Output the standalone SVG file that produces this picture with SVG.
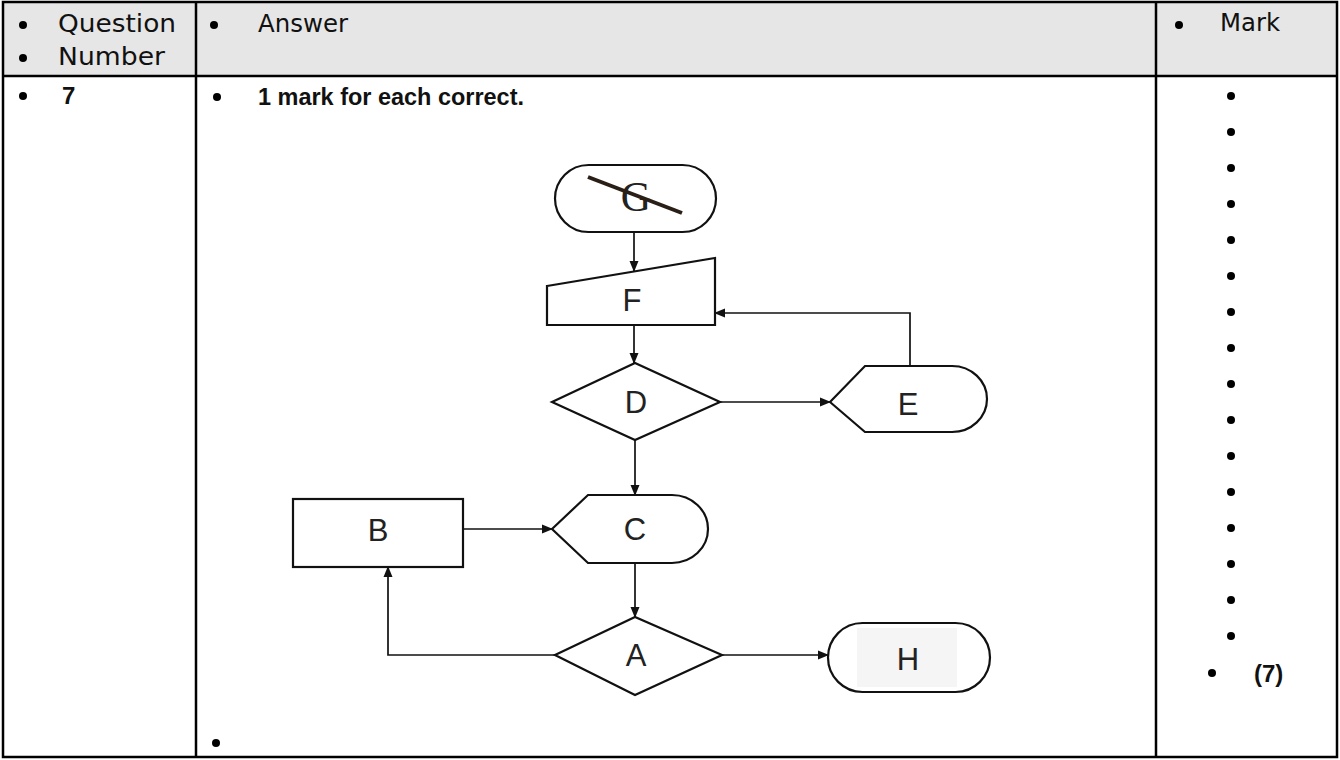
<svg xmlns="http://www.w3.org/2000/svg" width="1340" height="760" viewBox="0 0 1340 760">
<style>
.hd{font-family:"DejaVu Sans","Liberation Sans",sans-serif;font-size:24px;fill:#111}
.bd{font-family:"Liberation Sans",Arial,sans-serif;font-weight:bold;font-size:24px;fill:#111}
.lbl{font-family:"Liberation Sans",Arial,sans-serif;font-size:31px;fill:#222;text-anchor:middle}
.shape{fill:#fff;stroke:#111;stroke-width:2.2}
.conn{fill:none;stroke:#111;stroke-width:1.7}
.grid{stroke:#000;stroke-width:2.5;fill:none}
</style>
<defs>
<marker id="ah" markerWidth="11" markerHeight="11" refX="10" refY="5.5" orient="auto" markerUnits="userSpaceOnUse">
<path d="M0,1 L11,5.5 L0,10 Z" fill="#111"/>
</marker>
<g id="dot"><circle r="4" fill="#000"/></g>
</defs>
<rect width="1340" height="760" fill="#fff"/>
<!-- table -->
<g id="table">
<rect x="3" y="2" width="1334" height="74" fill="#e6e6e6"/>
<rect class="grid" x="3" y="2" width="1334" height="755"/>
<line class="grid" x1="3" y1="76" x2="1337" y2="76"/>
<line class="grid" x1="196" y1="2" x2="196" y2="757"/>
<line class="grid" x1="1156" y1="2" x2="1156" y2="757"/>
</g>
<g id="header">
<use href="#dot" x="23" y="25"/>
<text class="hd" x="58" y="32" textLength="118" lengthAdjust="spacingAndGlyphs">Question</text>
<use href="#dot" x="23" y="58"/>
<text class="hd" x="58" y="65" textLength="107" lengthAdjust="spacingAndGlyphs">Number</text>
<use href="#dot" x="214" y="25"/>
<text class="hd" x="258" y="32" textLength="90" lengthAdjust="spacingAndGlyphs">Answer</text>
<use href="#dot" x="1179" y="25"/>
<text class="hd" x="1220" y="31" textLength="60" lengthAdjust="spacingAndGlyphs">Mark</text>
</g>
<g id="row">
<use href="#dot" x="23" y="96"/>
<text class="bd" x="62" y="104">7</text>
<use href="#dot" x="217" y="97"/>
<text class="bd" x="258" y="105" textLength="266" lengthAdjust="spacingAndGlyphs">1 mark for each correct.</text>
<use href="#dot" x="216" y="743"/>
</g>
<g id="marks">
<use href="#dot" x="1231" y="96"/>
<use href="#dot" x="1231" y="132"/>
<use href="#dot" x="1231" y="168"/>
<use href="#dot" x="1231" y="204"/>
<use href="#dot" x="1231" y="240"/>
<use href="#dot" x="1231" y="276"/>
<use href="#dot" x="1231" y="312"/>
<use href="#dot" x="1231" y="348"/>
<use href="#dot" x="1231" y="384"/>
<use href="#dot" x="1231" y="420"/>
<use href="#dot" x="1231" y="456"/>
<use href="#dot" x="1231" y="492"/>
<use href="#dot" x="1231" y="528"/>
<use href="#dot" x="1231" y="564"/>
<use href="#dot" x="1231" y="600"/>
<use href="#dot" x="1231" y="636"/>
<use href="#dot" x="1212" y="673"/>
<text class="bd" x="1254" y="682">(7)</text>
</g>
<!-- connectors -->
<g id="connectors">
<path class="conn" d="M634,232 L634,271" marker-end="url(#ah)"/>
<path class="conn" d="M634,325 L634,363" marker-end="url(#ah)"/>
<path class="conn" d="M720,402 L830,402" marker-end="url(#ah)"/>
<path class="conn" d="M910,366 L910,313 L715,313" marker-end="url(#ah)"/>
<path class="conn" d="M635,440 L635,495" marker-end="url(#ah)"/>
<path class="conn" d="M463,529 L552,529" marker-end="url(#ah)"/>
<path class="conn" d="M635,563 L635,617" marker-end="url(#ah)"/>
<path class="conn" d="M555,655 L388,655 L388,567" marker-end="url(#ah)"/>
<path class="conn" d="M722,655 L828,655" marker-end="url(#ah)"/>
</g>
<!-- nodes -->
<g id="G">
<rect class="shape" x="555" y="165" width="161" height="67" rx="33.5"/>
<text x="636" y="211" font-family="'Liberation Serif',serif" font-size="42" fill="#222" text-anchor="middle">G</text>
<line x1="588" y1="177" x2="682" y2="213" stroke="#2a1f17" stroke-width="4"/>
</g>
<g id="F">
<polygon class="shape" points="547,286 715,258 715,325 547,325"/>
<text class="lbl" x="632" y="311">F</text>
</g>
<g id="D">
<polygon class="shape" points="552,402 635,363 720,402 635,440"/>
<text class="lbl" x="636" y="413">D</text>
</g>
<g id="E">
<path class="shape" d="M830,402 L865,366 L952,366 A35,33 0 0 1 952,432 L865,432 Z"/>
<text class="lbl" x="908" y="415">E</text>
</g>
<g id="B">
<rect class="shape" x="293" y="499" width="170" height="68"/>
<text class="lbl" x="378" y="541">B</text>
</g>
<g id="C">
<path class="shape" d="M552,529 L588,495 L672,495 A36,34 0 0 1 672,563 L588,563 Z"/>
<text class="lbl" x="635" y="540">C</text>
</g>
<g id="A">
<polygon class="shape" points="555,655 635,617 722,655 635,695"/>
<text class="lbl" x="636" y="666">A</text>
</g>
<g id="H">
<rect class="shape" x="828" y="623" width="162" height="69" rx="34.5"/>
<rect x="857" y="628" width="100" height="59" fill="#f5f5f5"/>
<text class="lbl" x="908" y="670">H</text>
</g>
</svg>
